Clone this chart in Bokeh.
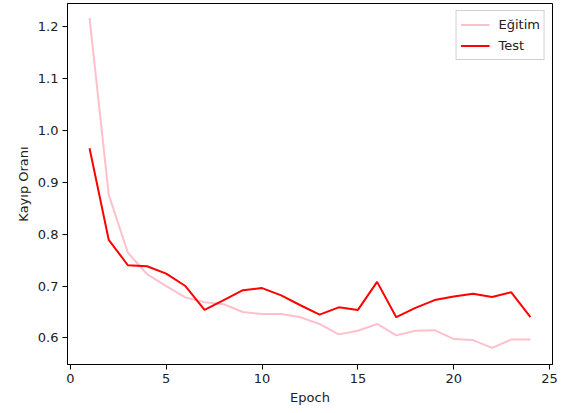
from bokeh.plotting import figure
from bokeh.embed import file_html
from bokeh.resources import INLINE
from bokeh.models import Range1d, FixedTicker, Legend, LegendItem, CustomJSTickFormatter

epochs = list(range(1, 25))
train_loss = [1.216, 0.876, 0.764, 0.723, 0.700, 0.678, 0.669, 0.665, 0.650, 0.646,
              0.646, 0.640, 0.627, 0.607, 0.614, 0.627, 0.605, 0.614, 0.615, 0.598,
              0.596, 0.581, 0.597, 0.597]
test_loss = [0.965, 0.789, 0.740, 0.738, 0.724, 0.700, 0.654, 0.673, 0.692, 0.696,
             0.682, 0.663, 0.645, 0.659, 0.654, 0.708, 0.640, 0.658, 0.673, 0.680,
             0.685, 0.679, 0.688, 0.640]
x_ticks = [0, 5, 10, 15, 20, 25]
y_ticks = [0.6, 0.7, 0.8, 0.9, 1.0, 1.1, 1.2]

p = figure(width=575, height=413, output_backend="svg", toolbar_location=None,
           x_range=Range1d(-0.15, 25.15), y_range=Range1d(0.549, 1.2437),
           min_border_left=67, min_border_right=23, min_border_top=3, min_border_bottom=49)

p.xgrid.visible = False
p.ygrid.visible = False
p.outline_line_color = "black"
p.outline_line_width = 1

for ax in (p.xaxis[0], p.yaxis[0]):
    ax.major_label_text_font = "DejaVu Sans"
    ax.major_label_text_font_size = "13px"
    ax.major_label_text_color = "#222222"
    ax.axis_label_text_font = "DejaVu Sans"
    ax.axis_label_text_font_size = "13px"
    ax.axis_label_text_font_style = "normal"
    ax.axis_label_text_color = "#222222"
    ax.minor_tick_line_color = None
    ax.major_tick_out = 5
    ax.major_tick_in = 0
    ax.major_label_standoff = 4
    ax.axis_label_standoff = 4
    ax.axis_line_color = "black"

p.xaxis.ticker = FixedTicker(ticks=x_ticks)
p.yaxis.ticker = FixedTicker(ticks=y_ticks)
p.yaxis.formatter = CustomJSTickFormatter(code="return tick.toFixed(1);")
p.xaxis.axis_label = "Epoch"
p.yaxis.axis_label = "Kayıp Oranı"

r1 = p.line(epochs, train_loss, line_color="pink", line_width=2)
r2 = p.line(epochs, test_loss, line_color="red", line_width=2)

legend = Legend(items=[LegendItem(label="Eğitim", renderers=[r1]),
                       LegendItem(label="Test", renderers=[r2])],
                location="top_right", label_text_font="DejaVu Sans",
                label_text_font_size="13px", label_text_color="#222222",
                border_line_color="#d0d0d0", border_line_alpha=1,
                background_fill_alpha=0.8,
                glyph_width=29, spacing=2, padding=4, margin=7,
                label_standoff=9, label_height=19, glyph_height=19)
p.add_layout(legend)

open("out.html", "w").write(file_html(p, INLINE))
